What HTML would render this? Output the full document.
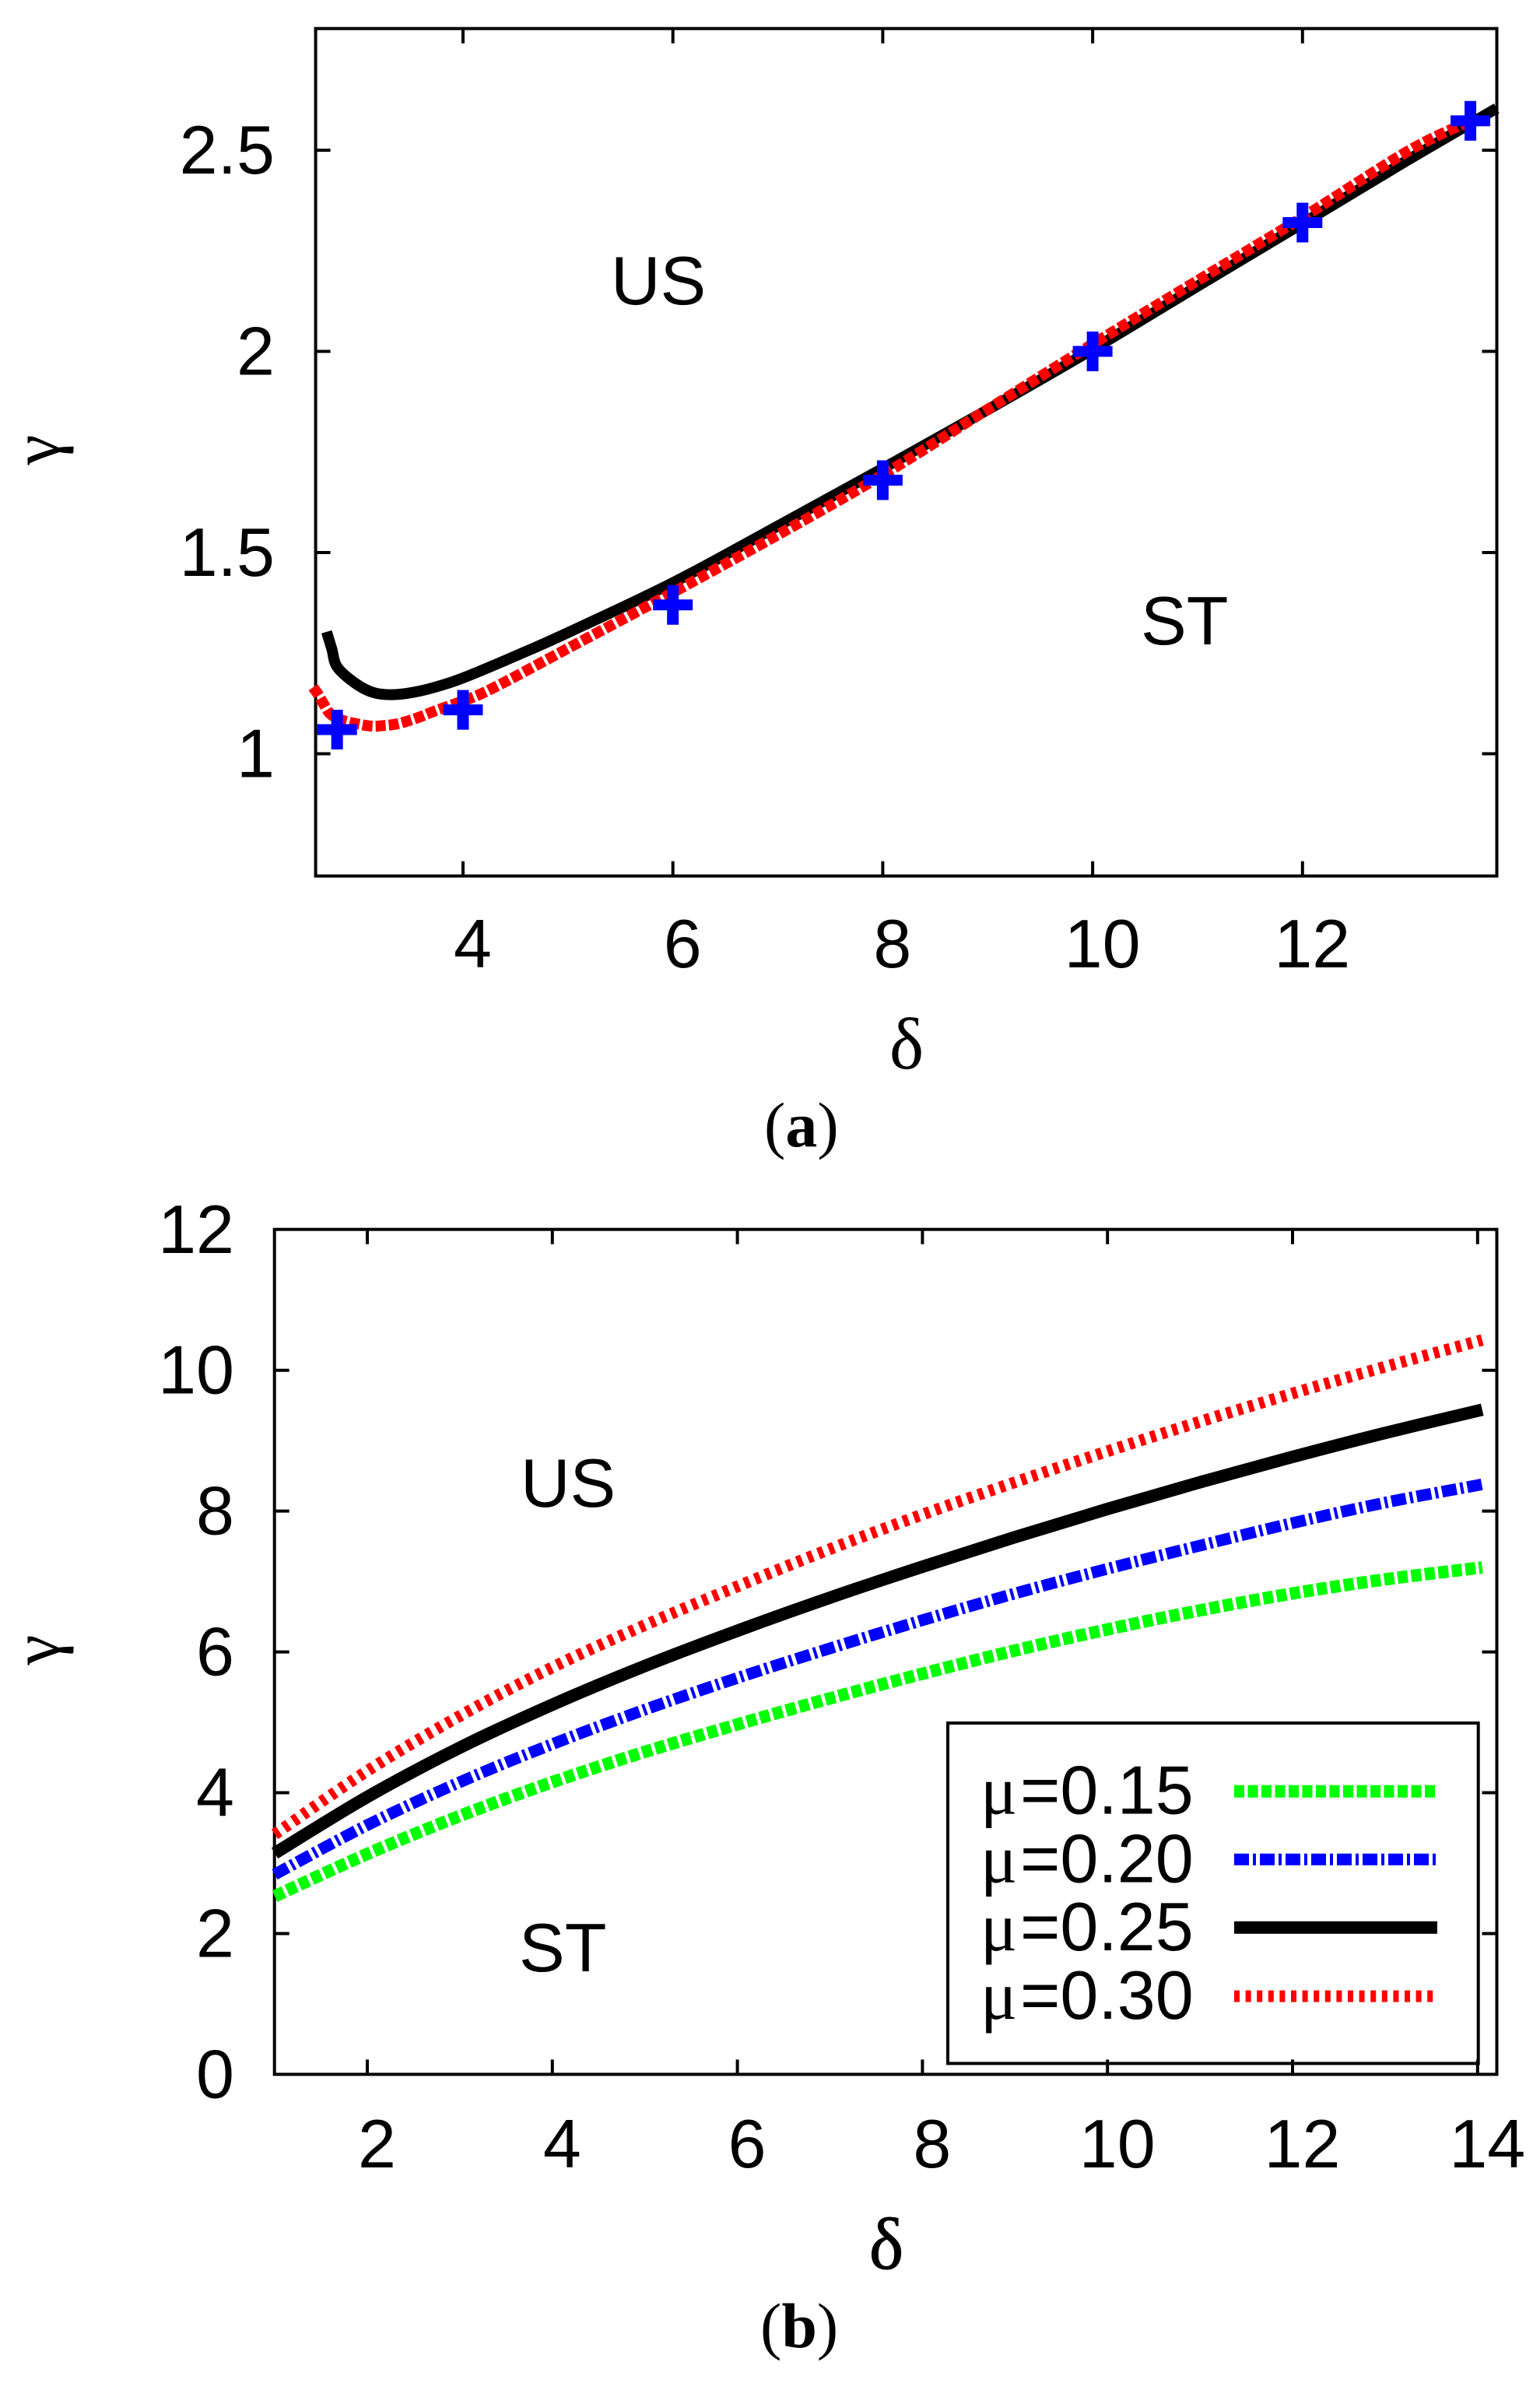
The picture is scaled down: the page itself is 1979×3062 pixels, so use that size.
<!DOCTYPE html>
<html lang="en">
<head>
<meta charset="utf-8">
<title>Stability diagrams</title>
<style>
html,body{margin:0;padding:0;background:#fff;}
svg{display:block;}
.sans{font-family:"Liberation Sans",sans-serif;font-size:88px;fill:#000;}
.serif{font-family:"Liberation Serif",serif;fill:#000;}
</style>
</head>
<body>
<svg id="figure" xmlns="http://www.w3.org/2000/svg" width="1979" height="3062" viewBox="0 0 1979 3062">
  <rect x="0" y="0" width="1979" height="3062" fill="#fff"/>

  <g id="panelA">
    <rect x="405.6" y="36.7" width="1517.9" height="1088.9" fill="none" stroke="#000" stroke-width="4"/>
    <g id="a-ticks"></g>
    <g id="a-series"></g>
    <text class="sans" x="785" y="391">US</text>
    <text class="sans" x="1466" y="828">ST</text>
    <text class="serif" x="1165" y="1373" font-size="94" text-anchor="middle">δ</text>
    <text class="serif" transform="translate(76,578) rotate(-90)" text-anchor="middle" font-size="88">γ</text>
    <text class="serif" x="982" y="1473" font-size="82">(<tspan font-weight="bold">a</tspan>)</text>
  </g>

  <g id="panelB">
    <rect x="352.7" y="1579.7" width="1570.8" height="1085.7" fill="none" stroke="#000" stroke-width="4"/>
    <g id="b-ticks"></g>
    <g id="b-series"></g>
    <text class="sans" x="669" y="1936">US</text>
    <text class="sans" x="667" y="2533">ST</text>
    <text class="serif" x="1139" y="2915" font-size="94" text-anchor="middle" stroke="#000" stroke-width="1">δ</text>
    <text class="serif" transform="translate(76,2120) rotate(-90)" text-anchor="middle" font-size="88">γ</text>
    <text class="serif" x="977" y="3016" font-size="82">(<tspan font-weight="bold">b</tspan>)</text>

    <g id="legend">
      <rect x="1218" y="2214" width="681.7" height="437.4" fill="none" stroke="#000" stroke-width="4"/>
      <text class="sans" y="2330.7"><tspan class="serif" x="1260" font-size="88">μ</tspan><tspan x="1311">=0.15</tspan></text>
      <text class="sans" y="2418.7"><tspan class="serif" x="1260" font-size="88">μ</tspan><tspan x="1311">=0.20</tspan></text>
      <text class="sans" y="2506"><tspan class="serif" x="1260" font-size="88">μ</tspan><tspan x="1311">=0.25</tspan></text>
      <text class="sans" y="2594"><tspan class="serif" x="1260" font-size="88">μ</tspan><tspan x="1311">=0.30</tspan></text>
      <g id="legend-lines"></g>
    </g>
  </g>
</svg>

<script>
// Panel (a) data
const aXTicks = [4, 6, 8, 10, 12];
const aYTicks = [1, 1.5, 2, 2.5];
const aYTickLabels = ['1', '1.5', '2', '2.5'];
const aBlackDelta = [2.70, 2.75, 2.80, 2.974, 3.147, 3.345, 3.59, 3.89, 4.13, 4.58, 5, 6, 7, 8, 9, 10, 11, 12, 13, 13.85];
const aBlackGamma = [1.303, 1.26, 1.216, 1.175, 1.152, 1.147, 1.156, 1.178, 1.202, 1.252, 1.301, 1.425, 1.566, 1.709, 1.855, 2.005, 2.162, 2.318, 2.475, 2.604];
const aRedDelta = [2.57, 2.613, 2.678, 2.74, 2.863, 3.11, 3.244, 3.37, 3.494, 3.614, 3.74, 4.11, 4.33, 4.578, 5, 6, 7, 8, 9, 10, 11, 12, 13, 13.6];
const aRedGamma = [1.165, 1.15, 1.121, 1.098, 1.082, 1.069, 1.07, 1.074, 1.083, 1.094, 1.107, 1.142, 1.169, 1.203, 1.262, 1.401, 1.544, 1.693, 1.856, 2.018, 2.176, 2.333, 2.497, 2.573];
const aMarkerDelta = [2.8, 4, 6, 8, 10, 12, 13.6];
const aMarkerGamma = [1.06, 1.109, 1.37, 1.68, 2.0, 2.32, 2.573];

// Panel (b) data
const bXTicks = [2, 4, 6, 8, 10, 12, 14];
const bYTicks = [0, 2, 4, 6, 8, 10, 12];
const bDelta = [1, 2, 3, 4, 5, 6, 7, 8, 9, 10, 11, 12, 13, 14.05];
const bGreen = [2.53, 3.13, 3.67, 4.15, 4.58, 4.97, 5.34, 5.69, 6.02, 6.32, 6.59, 6.83, 7.03, 7.2];
const bBlue = [2.84, 3.54, 4.15, 4.69, 5.18, 5.63, 6.05, 6.45, 6.83, 7.18, 7.51, 7.83, 8.12, 8.38];
const bBlack = [3.14, 3.94, 4.64, 5.25, 5.80, 6.30, 6.77, 7.21, 7.63, 8.03, 8.41, 8.77, 9.11, 9.44];
const bRed = [3.41, 4.31, 5.09, 5.78, 6.38, 6.93, 7.46, 7.95, 8.41, 8.85, 9.27, 9.67, 10.05, 10.43];
const legendRows = ['mu-0-15', 'mu-0-20', 'mu-0-25', 'mu-0-30'];

const NS = 'http://www.w3.org/2000/svg';
const aX = function (v) { return 595 + (v - 4) * 134.85; };
const aY = function (v) { return 968.5 - (v - 1) * 517; };
const bX = function (v) { return 472 + (v - 2) * 118.9; };
const bY = function (v) { return 2665.4 - v * 90.47; };

function make(tag, parent) {
  const el = document.createElementNS(NS, tag);
  parent.appendChild(el);
  return el;
}

function smoothPath(pts) {
  let d = 'M' + pts[0][0].toFixed(2) + ' ' + pts[0][1].toFixed(2);
  for (let i = 0; i < pts.length - 1; i++) {
    const p0 = pts[Math.max(i - 1, 0)];
    const p1 = pts[i];
    const p2 = pts[i + 1];
    const p3 = pts[Math.min(i + 2, pts.length - 1)];
    const c1x = p1[0] + (p2[0] - p0[0]) / 6;
    const c1y = p1[1] + (p2[1] - p0[1]) / 6;
    const c2x = p2[0] - (p3[0] - p1[0]) / 6;
    const c2y = p2[1] - (p3[1] - p1[1]) / 6;
    d += 'C' + c1x.toFixed(2) + ' ' + c1y.toFixed(2) + ' ' + c2x.toFixed(2) + ' ' + c2y.toFixed(2) + ' ' + p2[0].toFixed(2) + ' ' + p2[1].toFixed(2);
  }
  return d;
}

function drawCurve(parent, name, xs, ys, xf, yf, color, width, dash) {
  const pts = xs.map(function (x, i) { return [xf(x), yf(ys[i])]; });
  const el = make('path', parent);
  
  
  el.setAttribute('d', smoothPath(pts));
  el.setAttribute('fill', 'none');
  el.setAttribute('stroke', color);
  el.setAttribute('stroke-width', width);
  el.setAttribute('stroke-linejoin', 'round');
  if (dash) el.setAttribute('stroke-dasharray', dash);
}

function drawLine(parent, name, x1, y1, x2, y2, color, width, dash) {
  const el = make('line', parent);
  
  
  el.setAttribute('x1', x1);
  el.setAttribute('y1', y1);
  el.setAttribute('x2', x2);
  el.setAttribute('y2', y2);
  el.setAttribute('stroke', color);
  el.setAttribute('stroke-width', width);
  if (dash) el.setAttribute('stroke-dasharray', dash);
}

function drawLabel(parent, name, x, y, anchor, str) {
  const el = make('text', parent);
  
  
  el.setAttribute('class', 'sans');
  el.setAttribute('x', x);
  el.setAttribute('y', y);
  el.setAttribute('text-anchor', anchor);
  el.textContent = str;
}

function drawAxes(parent, prefix, xTicks, yTicks, yLabels, xf, yf, frame) {
  xTicks.forEach(function (v) {
    const x = xf(v);
    drawLine(parent, prefix + '-x-tick-bottom-' + v, x, frame.bottom, x, frame.bottom - 19, '#000', 4);
    drawLine(parent, prefix + '-x-tick-top-' + v, x, frame.top, x, frame.top + 19, '#000', 4);
    drawLabel(parent, prefix + '-x-tick-label-' + v, x + 12.5, frame.xLabelY, 'middle', String(v));
  });
  yTicks.forEach(function (v, i) {
    const y = yf(v);
    if (y > frame.top + 4 && y < frame.bottom - 4) {
      drawLine(parent, prefix + '-y-tick-left-' + v, frame.left, y, frame.left + 19, y, '#000', 4);
      drawLine(parent, prefix + '-y-tick-right-' + v, frame.right, y, frame.right - 19, y, '#000', 4);
    }
    drawLabel(parent, prefix + '-y-tick-label-' + v, frame.yLabelX, y + 30, 'end', yLabels[i]);
  });
}

const aTicks = document.getElementById('a-ticks');
const aSeries = document.getElementById('a-series');
const bTicks = document.getElementById('b-ticks');
const bSeries = document.getElementById('b-series');
const legendLines = document.getElementById('legend-lines');

drawAxes(aTicks, 'a', aXTicks, aYTicks, aYTickLabels, aX, aY, { left: 405.6, right: 1923.5, top: 36.7, bottom: 1125.6, xLabelY: 1243, yLabelX: 353 });
drawAxes(bTicks, 'b', bXTicks, bYTicks, bYTicks.map(String), bX, bY, { left: 352.7, right: 1923.5, top: 1579.7, bottom: 2665.4, xLabelY: 2785, yLabelX: 301 });

drawCurve(aSeries, 'theory-curve-black', aBlackDelta, aBlackGamma, aX, aY, '#000', 14);
drawCurve(aSeries, 'theory-curve-red', aRedDelta, aRedGamma, aX, aY, '#f00', 14, '13 4');

aMarkerDelta.forEach(function (d, i) {
  const cx = aX(d);
  const cy = aY(aMarkerGamma[i]);
  const g = make('g', aSeries);
  
  
  drawLine(g, 'marker-horizontal-arm', cx - 25.5, cy, cx + 25.5, cy, '#00f', 14);
  drawLine(g, 'marker-vertical-arm', cx, cy - 25.5, cx, cy + 25.5, '#00f', 15);
});

drawCurve(bSeries, 'curve-mu-0-15', bDelta, bGreen, bX, bY, '#0f0', 16, '13 4.5');
drawCurve(bSeries, 'curve-mu-0-20', bDelta, bBlue, bX, bY, '#00f', 15, '19 5 4 5');
drawCurve(bSeries, 'curve-mu-0-25', bDelta, bBlack, bX, bY, '#000', 16);
drawCurve(bSeries, 'curve-mu-0-30', bDelta, bRed, bX, bY, '#f00', 15, '7 7.6');

drawLine(legendLines, 'legend-line-' + legendRows[0], 1586, 2301.7, 1845, 2301.7, '#0f0', 16, '13 4.5');
drawLine(legendLines, 'legend-line-' + legendRows[1], 1586, 2389.3, 1847, 2389.3, '#00f', 15, '19 5 4 5');
drawLine(legendLines, 'legend-line-' + legendRows[2], 1586, 2476.7, 1847, 2476.7, '#000', 16);
drawLine(legendLines, 'legend-line-' + legendRows[3], 1586, 2565, 1842, 2565, '#f00', 15, '7 7.6');
</script>
</body>
</html>
